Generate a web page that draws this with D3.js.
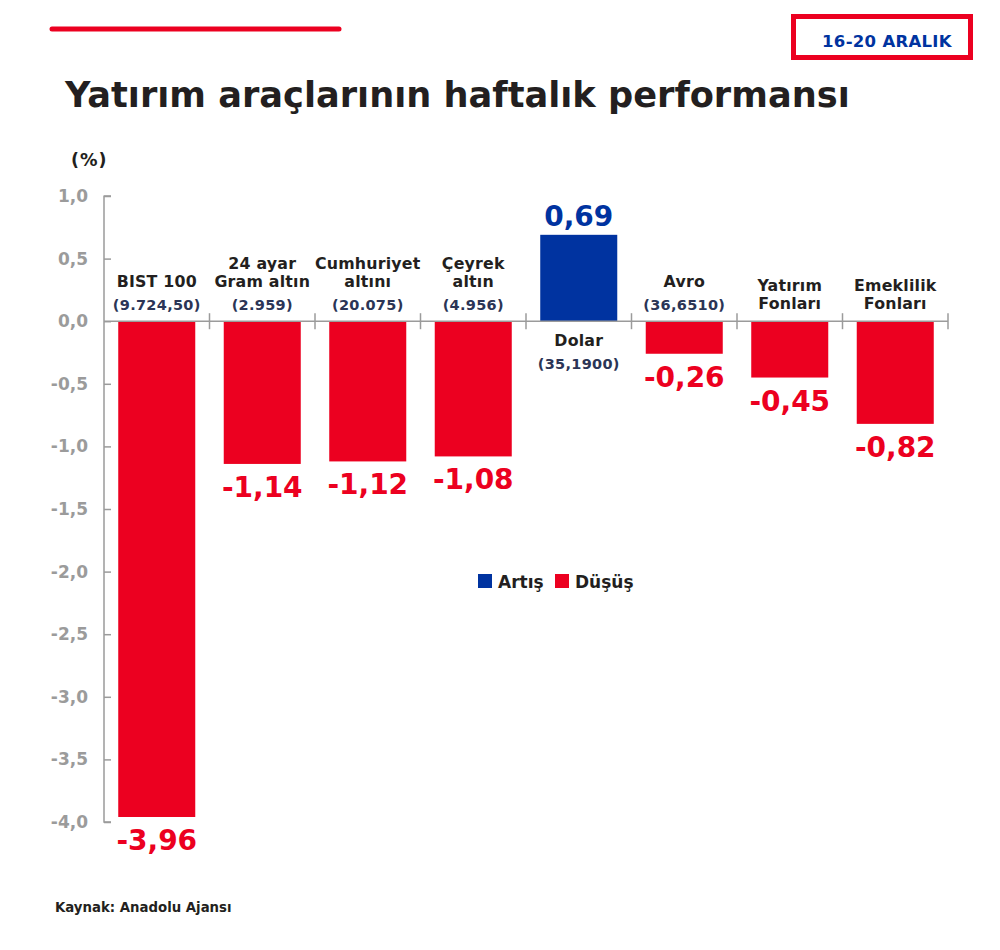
<!DOCTYPE html>
<html>
<head>
<meta charset="utf-8">
<script src="https://cdn.jsdelivr.net/npm/d3@7"></script>
<style>
  body { margin: 0; background: #fff; }
  text { font-family: "DejaVu Sans", sans-serif; font-weight: 700; }
</style>
</head>
<body>
<script>
// data
var categories = ["BIST 100", "24 ayar|Gram altın", "Cumhuriyet|altını", "Çeyrek|altın", "Dolar", "Avro", "Yatırım|Fonları", "Emeklilik|Fonları"];
var prices = ["(9.724,50)", "(2.959)", "(20.075)", "(4.956)", "(35,1900)", "(36,6510)", "", ""];
var values = [-3.96, -1.14, -1.12, -1.08, 0.69, -0.26, -0.45, -0.82];
var yTicks = [1, 0.5, 0, -0.5, -1, -1.5, -2, -2.5, -3, -3.5, -4];
var legendItems = ["Artış", "Düşüş"];

var width = 1000, height = 950;
var red = "#ec0020", blue = "#0033a0", grey = "#9b9b9b", dark = "#231f20", navy = "#2b3556";

// turkish style numbers with a plain hyphen
var fmt = function(v) { return d3.format(".2f")(v).replace(".", ",").replace("−", "-"); };
var fmt1 = function(v) { return d3.format(".1f")(v).replace(".", ",").replace("−", "-"); };

var svg = d3.select("body")
            .append("svg")
            .attr("width", width)
            .attr("height", height);

// top decoration
svg.append("line")
   .attr("x1", 52).attr("x2", 339)
   .attr("y1", 29).attr("y2", 29)
   .attr("stroke", red)
   .attr("stroke-width", 5)
   .attr("stroke-linecap", "round");

svg.append("rect")
   .attr("x", 793.5).attr("y", 16.5)
   .attr("width", 177).attr("height", 41)
   .attr("fill", "none")
   .attr("stroke", red)
   .attr("stroke-width", 5);

svg.append("text")
   .attr("x", 887).attr("y", 47)
   .attr("text-anchor", "middle")
   .attr("font-size", "16.5px")
   .attr("letter-spacing", "0.3")
   .attr("fill", blue)
   .text("16-20 ARALIK");

var title = svg.append("text")
   .attr("x", 65).attr("y", 107)
   .attr("font-size", "38px")
   .attr("font-family", "Open Sans, sans-serif")
   .attr("fill", dark)
   .text("Yatırım araçlarının haftalık performansı");
// fit title to its width in the original
var tl = title.node().getComputedTextLength();
title.attr("font-size", (38 * 785 / tl) + "px");

svg.append("text")
   .attr("x", 71).attr("y", 166)
   .attr("font-size", "17.5px")
   .attr("letter-spacing", "1")
   .attr("fill", dark)
   .text("(%)");

// scales
var x = d3.scaleBand()
          .domain(categories)
          .range([104, 948])
          .paddingInner(0.27)
          .paddingOuter(0.135);

var y = d3.scaleLinear()
          .domain([-4, 1])
          .range([822, 196]);

// y axis
var yAxis = svg.append("g")
   .attr("transform", "translate(104,0)")
   .call(d3.axisLeft(y)
           .tickValues(yTicks)
           .tickSize(-7)
           .tickPadding(16)
           .tickFormat(fmt1));

yAxis.select(".domain").attr("stroke", grey).attr("stroke-width", 1.5)
     .attr("d", "M-0.5," + y(1) + "H7V" + y(1) + "M0," + y(1) + "V" + y(-4) + "H7");
yAxis.selectAll(".tick line").attr("stroke", grey).attr("stroke-width", 1.5);
yAxis.selectAll(".tick text")
     .attr("fill", grey)
     .attr("font-size", "17px")
     .attr("font-family", "DejaVu Sans, sans-serif")
     .attr("font-weight", 700);

// bars
svg.append("g")
   .selectAll("rect")
   .data(values)
   .enter().append("rect")
   .attr("x", function(d, i) { return x(categories[i]); })
   .attr("width", x.bandwidth())
   .attr("y", function(d) { return y(Math.max(0, d)); })
   .attr("height", function(d) { return Math.abs(y(d) - y(0)); })
   .attr("fill", function(d) { return d >= 0 ? blue : red; });

// zero line with band separators
var zero = y(0);
svg.append("line")
   .attr("x1", 104).attr("x2", 948)
   .attr("y1", zero).attr("y2", zero)
   .attr("stroke", grey).attr("stroke-width", 1.5);

var step = x.step();
svg.append("g")
   .selectAll("line")
   .data(categories)
   .enter().append("line")
   .attr("x1", function(d) { return x(d) - x.paddingOuter() * step + step; })
   .attr("x2", function(d) { return x(d) - x.paddingOuter() * step + step; })
   .attr("y1", zero - 8).attr("y2", zero + 8)
   .attr("stroke", grey).attr("stroke-width", 1.5);

// category labels
var labels = svg.append("g")
   .selectAll("g")
   .data(categories)
   .enter().append("g")
   .attr("transform", function(d) { return "translate(" + (x(d) + x.bandwidth() / 2) + ",0)"; });

var lineGap = 18.5;
labels.each(function(d, i) {
  var g = d3.select(this);
  var lines = d.split("|");
  var neg = values[i] < 0;
  var p = prices[i];
  var first;
  if (neg) {
    var last = p ? zero - 34 : zero - 12;
    first = last - (lines.length - 1) * lineGap;
  } else {
    first = zero + 25;
  }
  lines.forEach(function(t, k) {
    g.append("text")
     .attr("y", first + k * lineGap)
     .attr("text-anchor", "middle")
     .attr("font-size", "15.8px")
     .attr("letter-spacing", "0.2")
     .attr("fill", dark)
     .text(t);
  });
  if (p) {
    g.append("text")
     .attr("y", first + (lines.length - 1) * lineGap + 23)
     .attr("text-anchor", "middle")
     .attr("font-size", "14.5px")
     .attr("letter-spacing", "0.3")
     .attr("fill", navy)
     .text(p);
  }
});

// value labels
svg.append("g")
   .selectAll("text")
   .data(values)
   .enter().append("text")
   .attr("x", function(d, i) { return x(categories[i]) + x.bandwidth() / 2; })
   .attr("y", function(d) { return d < 0 ? y(d) + 33 : y(d) - 9; })
   .attr("text-anchor", "middle")
   .attr("font-size", "28px")
   .attr("fill", function(d) { return d >= 0 ? blue : red; })
   .text(fmt);

// legend
var legend = svg.append("g").attr("transform", "translate(478,574)");
var lx = [0, 77];
legendItems.forEach(function(t, i) {
  legend.append("rect")
        .attr("x", lx[i]).attr("y", 0)
        .attr("width", 14).attr("height", 14)
        .attr("fill", i == 0 ? blue : red);
  legend.append("text")
        .attr("x", lx[i] + 20).attr("y", 14)
        .attr("font-size", "17px")
        .attr("fill", dark)
        .text(t);
});

svg.append("text")
   .attr("x", 55).attr("y", 912)
   .attr("font-size", "13.3px")
   .attr("fill", dark)
   .text("Kaynak: Anadolu Ajansı");
</script>
</body>
</html>
